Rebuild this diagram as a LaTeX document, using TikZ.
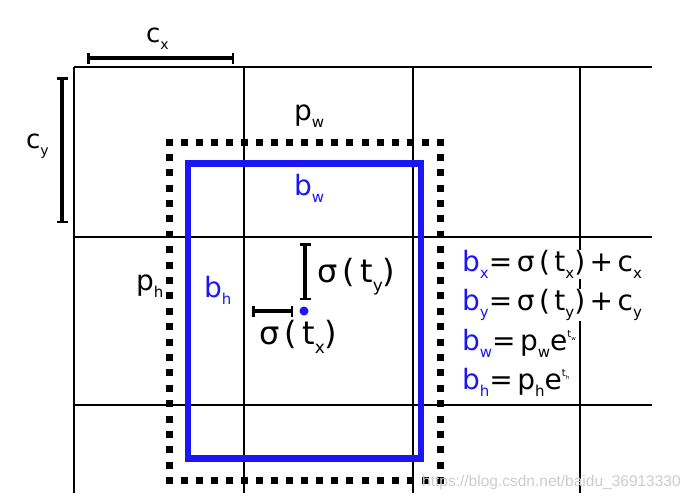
\documentclass[tikz,border=0pt]{standalone}
\usepackage{fontspec}
\setmainfont{DejaVu Sans}[LetterSpace=16]
\newfontfamily\markfont{Liberation Sans}
\usetikzlibrary{arrows.meta}
\definecolor{boxblue}{RGB}{28,22,245}
% subscript and small exponent
\newcommand\sbx[2][15]{\raisebox{-.53\dimexpr#1pt\relax}{\fontsize{#1}{#1}\selectfont #2}}
\newcommand\spx[2]{\raisebox{13pt}{\fontsize{10}{10}\selectfont #1\raisebox{-3pt}{\fontsize{5.5}{5.5}\selectfont #2}}}
\begin{document}
\begin{tikzpicture}[x=1pt,y=-1pt,
    grid/.style={line width=1.2pt},
    span/.style={line width=#1,{Bar[width=11pt,line width=2.5pt]}-{Bar[width=11pt,line width=2.5pt]}},
    span/.default=4pt,
    dotside/.style={line width=7pt,dash pattern=on 7pt off #1},
    lbl/.style={anchor=base west,inner sep=0pt,font=\fontsize{#1}{#1}\selectfont},
    lbl/.default=28,
    eq/.style={lbl,fill=white}]
    \useasboundingbox (0,0) rectangle (697,501);

    % Rejilla de celdas.
    \foreach \y in {67,237,405} {
        \draw[grid] (74,\y) -- (652,\y);
    }
    \foreach \x in {74,244,413,580} {
        \draw[grid] (\x,67) -- (\x,493);
    }

    % Caja previa (punteada) y caja predicha (azul).
    \draw[dotside=8.08pt] (165.5,142) -- (444,142);
    \draw[dotside=8.08pt] (165.5,480.5) -- (444,480.5);
    \draw[dotside=8.39pt] (169,138.5) -- (169,484);
    \draw[dotside=8.39pt] (440.5,138.5) -- (440.5,484);
    \draw[boxblue,line width=6.8pt] (188,163.3) rectangle (421,458.7);

    % Tamaño de celda.
    \coordinate (cxa) at (87,58);
    \coordinate (cxb) at (234,58);
    \coordinate (cya) at (62,77);
    \coordinate (cyb) at (62,223);
    \draw[span] (cxa) -- (cxb);
    \draw[span] (cya) -- (cyb);
    \node[lbl=26] (cx) at (146,42) {c\sbx[14]{x}};
    \node[lbl=26] (cy) at (26,148) {c\sbx[14]{y}};

    % Centro y desplazamientos.
    \node[circle,fill=boxblue,inner sep=0pt,minimum size=9pt] (ctr) at (304,311) {};
    \coordinate (txa) at (252,311);
    \coordinate (txb) at (293,311);
    \coordinate (tya) at (305,243);
    \coordinate (tyb) at (305,300);
    \draw[span=3.3pt] (txa) -- (txb);
    \draw[span=3.3pt] (tya) -- (tyb);
    \node[lbl=32] (tx) at (259,344) {σ(t\sbx[17]{x})};
    \node[lbl=32] (ty) at (317,282) {σ(t\sbx[17]{y})};

    % Etiquetas de las cajas.
    \node[lbl] (pw) at (294,120) {p\sbx{w}};
    \node[lbl,boxblue] (bw) at (294,195) {b\sbx{w}};
    \node[lbl] (ph) at (136,290) {p\sbx{h}};
    \node[lbl,boxblue] (bh) at (204,297) {b\sbx{h}};

    % Ecuaciones.
    \node[eq] (eqx) at (462,271) {{\color{boxblue}b\sbx{x}}=σ(t\sbx{x})+c\sbx{x}};
    \node[eq] (eqy) at (462,310) {{\color{boxblue}b\sbx{y}}=σ(t\sbx{y})+c\sbx{y}};
    \node[eq] (eqw) at (462,350) {{\color{boxblue}b\sbx{w}}=p\sbx{w}e\spx{t}{w}};
    \node[eq] (eqh) at (462,389) {{\color{boxblue}b\sbx{h}}=p\sbx{h}e\spx{t}{h}};

    \node[anchor=base west,inner sep=0pt,gray!40,font=\markfont\fontsize{15.5}{15.5}\selectfont] (mark) at (422,486) {https://blog.csdn.net/baidu\_36913330};
\end{tikzpicture}
\end{document}
